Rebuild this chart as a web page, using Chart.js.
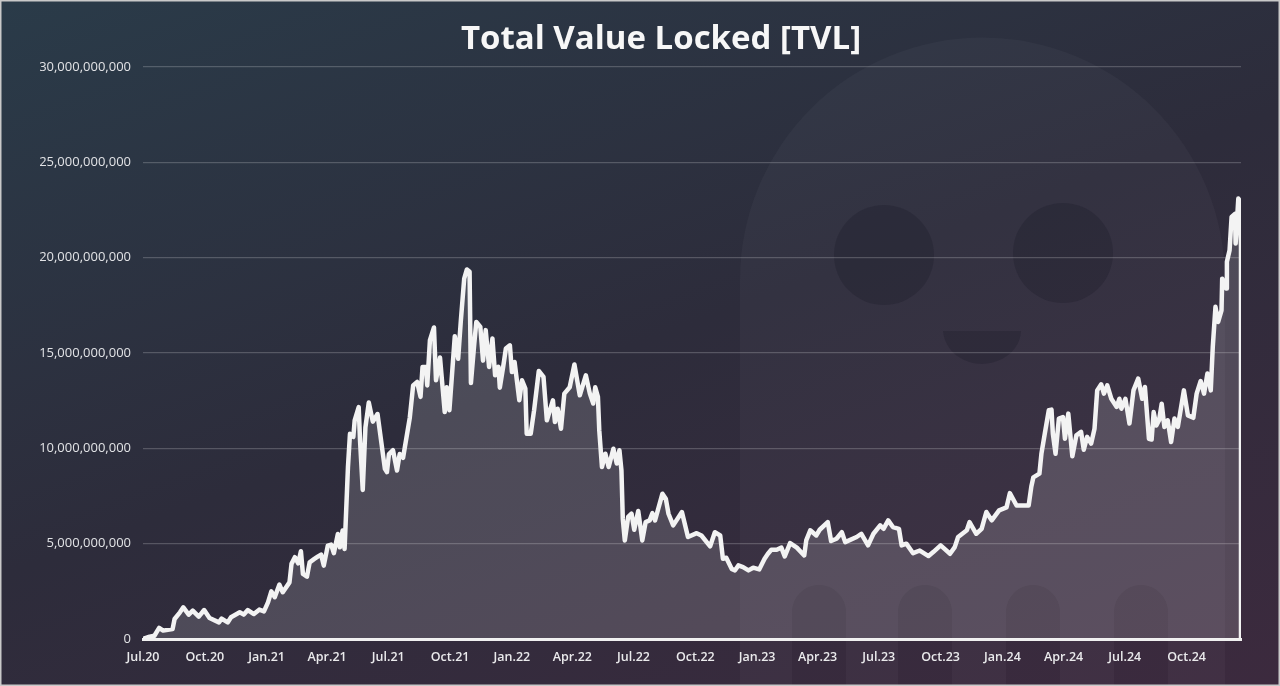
<!DOCTYPE html>
<html>
<head>
<meta charset="utf-8">
<script src="https://cdn.jsdelivr.net/npm/chart.js@4"></script>
<style>
    html, body { margin: 0; padding: 0; background: #2d2c3b; overflow: hidden; }
    #frame { position: relative; width: 1280px; height: 686px; overflow: hidden;
             background: linear-gradient(160deg, #2a3b49 0%, #2d2c3b 50%, #3c2a3e 100%); }
    #frame:after { content: ''; position: absolute; left: 0; top: 0; right: 0; bottom: 0;
                   box-shadow: inset 0 0 0 1.5px #c9c9c9; pointer-events: none; }
    #ghost { position: absolute; left: 0; top: 0; }
    #tvlChart { position: absolute; left: 0; top: 0; }
</style>
</head>
<body>
<div id="frame">
    <!-- watermark behind the chart -->
    <svg id="ghost" width="1280" height="686">
        <path fill="rgba(255,255,255,0.03)" fill-rule="evenodd"
              d="M740 686 V280 A242 242 0 0 1 1225 280 V686 Z
                 M792 686 V612 A27 27 0 0 1 846 612 V686 Z
                 M898 686 V612 A27 27 0 0 1 952 612 V686 Z
                 M1006 686 V612 A27 27 0 0 1 1060 612 V686 Z
                 M1114 686 V612 A27 27 0 0 1 1168 612 V686 Z"/>
        <circle cx="884" cy="255" r="50" fill="rgba(20,20,30,0.22)"/>
        <circle cx="1063" cy="253" r="50" fill="rgba(20,20,30,0.22)"/>
        <path d="M943 331 H1021 C1020 352 1000 364 982 364 C964 364 945 352 943 331 Z" fill="rgba(20,20,30,0.22)"/>
    </svg>
    <canvas id="tvlChart" width="1280" height="686"></canvas>
</div>
<script>
const chartTitle = 'Total Value Locked [TVL]';

// quarter labels and their day offset from 1 Jul 2020
const quarterLabels = ['Jul.20','Oct.20','Jan.21','Apr.21','Jul.21','Oct.21','Jan.22','Apr.22','Jul.22','Oct.22','Jan.23','Apr.23','Jul.23','Oct.23','Jan.24','Apr.24','Jul.24','Oct.24'];
const quarterDays = [0,92,184,274,365,457,549,639,730,822,914,1004,1095,1187,1279,1370,1461,1553];

// days since 1 Jul 2020
const tvlDays = [
    0,10,17,24,30,44,47,55,60,68,74,83,91,99,113,117,126,131,144,150,156,165,173,180,186,191,196,203,208,218,
    221,226,231,235,238,244,248,255,260,265,269,275,280,284,290,293,297,300,305,308,313,315,321,323,327,331,336,342,349,360,
    363,366,372,378,382,387,397,402,408,413,416,421,423,427,433,436,442,449,452,456,464,469,473,478,482,486,488,493,496,502,
    506,510,515,520,524,529,531,536,540,546,549,553,560,564,569,571,577,582,589,596,601,610,613,617,622,627,635,642,650,659,
    665,670,673,677,679,683,688,693,700,705,709,712,714,717,722,727,731,737,743,748,754,758,762,773,778,782,789,802,811,824,
    831,844,851,859,863,868,876,881,886,893,901,908,917,925,930,935,943,950,955,963,973,984,987,993,1002,1007,1019,1024,1032,1040,
    1045,1062,1069,1079,1087,1097,1102,1109,1116,1125,1129,1136,1146,1156,1169,1176,1187,1201,1208,1213,1226,1230,1240,1248,1255,1263,1274,1285,1290,1300,
    1318,1322,1325,1334,1337,1342,1348,1352,1354,1358,1363,1369,1372,1377,1383,1389,1396,1400,1405,1411,1416,1420,1426,1430,1435,1441,1449,1453,1456,1462,
    1468,1474,1481,1487,1491,1497,1501,1504,1508,1512,1516,1520,1525,1530,1535,1540,1549,1555,1563,1568,1574,1579,1584,1589,1592,1596,1600,1605,1606,1612,
    1613,1617,1620,1625,1626,1630,1632,1634,1634
];

// TVL in billions of USD
const tvlBillions = [
    0,0.12,0.17,0.58,0.44,0.52,1.05,1.4,1.66,1.28,1.49,1.17,1.52,1.1,0.87,1.07,0.87,1.14,1.4,1.28,1.52,1.31,1.54,1.45,1.92,2.5,2.19,2.85,2.45,2.97,
    3.94,4.29,3.97,4.6,3.41,3.27,4.02,4.2,4.32,4.43,3.85,4.9,4.95,4.5,5.51,4.81,5.69,4.72,9.0,10.76,10.6,11.46,12.16,10.4,7.82,11.1,12.4,11.4,11.8,8.92,
    8.75,9.7,9.9,8.84,9.7,9.5,11.6,13.3,13.48,12.7,14.27,14.27,13.3,15.67,16.34,13.57,14.76,11.9,13.2,12.0,15.88,14.7,16.7,18.9,19.38,19.26,13.43,15.5,16.63,16.37,
    14.6,16.2,14.27,15.76,13.83,14.27,13.18,14.27,15.23,15.4,14.0,14.53,12.52,13.57,13.13,10.77,10.77,12.0,14.06,13.75,11.47,12.52,11.38,12.08,11.03,12.87,13.2,14.4,12.78,13.83,
    12.87,12.35,13.2,12.7,10.94,9.02,9.72,9.02,9.98,9.2,9.9,8.84,6.3,5.17,6.4,6.57,5.73,6.71,5.17,6.13,6.22,6.6,6.22,7.62,7.36,6.57,5.96,6.66,5.35,5.55,
    5.43,4.86,5.6,5.43,4.21,4.26,3.68,3.6,3.86,3.77,3.6,3.74,3.65,4.21,4.47,4.68,4.68,4.79,4.33,5.03,4.79,4.38,5.17,5.7,5.43,5.73,6.13,5.14,5.26,5.6,
    5.08,5.35,5.52,4.91,5.52,5.96,5.78,6.22,5.87,5.78,4.91,5.0,4.5,4.64,4.35,4.56,4.91,4.47,4.82,5.35,5.7,6.13,5.52,5.78,6.66,6.22,6.75,6.9,7.65,7.0,
    7.0,8.0,8.48,8.67,9.72,10.77,12.0,12.03,10.77,9.72,11.56,11.64,10.5,11.82,9.58,10.68,10.86,9.93,10.6,10.25,11.03,13.04,13.36,12.87,13.3,12.6,12.17,12.6,12.08,12.6,
    11.3,13.04,13.66,12.6,13.22,10.5,10.46,11.9,11.2,11.47,12.34,11.12,11.47,10.33,11.56,11.12,13.04,11.73,11.6,12.87,13.53,12.87,13.92,13.04,15.32,17.42,16.63,17.24,18.9,18.38,
    19.78,20.39,22.14,22.3,20.74,23.1,23.0,20.57,0
];

const yTickStep = 5000000000;
const yMax = 30000000000;

// the title sits a bit right of the canvas centre
const titleShift = {
    id: 'titleShift',
    afterLayout(chart) {
        chart.titleBlock.left += 20.5;
        chart.titleBlock.right += 20.5;
    }
};

new Chart(document.getElementById('tvlChart').getContext('2d'), {
    type: 'line',
    plugins: [titleShift],
    data: {
        datasets: [{
            data: tvlDays.map((d, i) => ({ x: d, y: tvlBillions[i] * 1e9 })),
            borderColor: '#f3f3f3',
            borderWidth: 4.5,
            borderJoinStyle: 'round',
            backgroundColor: 'rgba(255,255,255,0.15)',
            fill: 'origin',
            pointRadius: 0,
            tension: 0
        }]
    },
    options: {
        responsive: false,
        animation: false,
        devicePixelRatio: 1,
        layout: { padding: { left: 40, right: 39, top: 0, bottom: 0 } },
        plugins: {
            legend: { display: false },
            tooltip: { enabled: false },
            title: {
                display: true,
                text: chartTitle,
                color: '#f7f7f7',
                font: { family: 'Open Sans', size: 33, weight: '700', lineHeight: 1.2 },
                padding: { top: 20.2, bottom: 7.2 }
            }
        },
        scales: {
            x: {
                type: 'linear',
                min: 0,
                max: 1634,
                afterBuildTicks: scale => { scale.ticks = quarterDays.map(d => ({ value: d })); },
                afterFit: scale => { scale.height = 47; },
                grid: { display: false, drawTicks: true, tickLength: 5, tickColor: '#e8e8e8' },
                border: { color: '#f0f0f0', width: 3 },
                ticks: {
                    autoSkip: false,
                    maxRotation: 0,
                    padding: 6,
                    color: '#eaeaec',
                    font: { family: 'Open Sans', size: 12.5, weight: '600' },
                    callback: value => quarterLabels[quarterDays.indexOf(value)]
                }
            },
            y: {
                min: 0,
                max: yMax,
                afterFit: scale => { scale.width = 103; },
                grid: { color: 'rgba(255,255,255,0.2)', lineWidth: 1.2, drawTicks: false },
                border: { display: false },
                ticks: {
                    stepSize: yTickStep,
                    padding: 12,
                    color: '#e2e3e6',
                    font: { family: 'Open Sans', size: 13 },
                    callback: value => value.toLocaleString('en-US')
                }
            }
        }
    }
});
</script>
</body>
</html>
